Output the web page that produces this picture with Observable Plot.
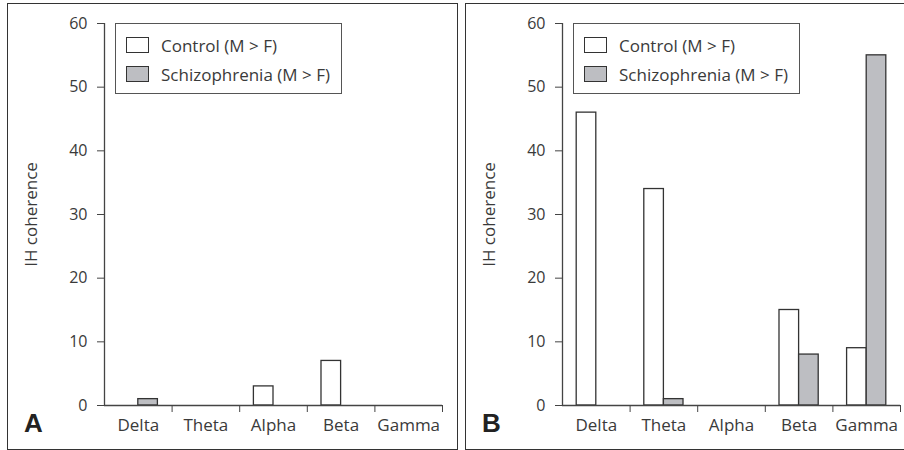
<!DOCTYPE html>
<html>
<head>
<meta charset="utf-8">
<script src="https://cdn.jsdelivr.net/npm/d3@7"></script>
<script src="https://cdn.jsdelivr.net/npm/@observablehq/plot@0.6"></script>
<style>
  html, body { margin: 0; padding: 0; background: #fff; }
  #wrap { position: relative; width: 904px; height: 450px; overflow: hidden; font-family: "Open Sans", sans-serif; color: #3a3a3a; }
  .panel { position: absolute; top: 0; width: 452px; height: 450px; }
  .panel svg { position: absolute; left: 0; top: 0; }
  .border { position: absolute; box-sizing: border-box; border: 1.5px solid #333; }
  .legend { position: absolute; box-sizing: border-box; border: 1.5px solid #555; background: #fff; }
  .item { position: absolute; left: 0; height: 16px; display: flex; align-items: center; white-space: nowrap; font-size: 17px; }
  .sw { box-sizing: border-box; width: 23px; height: 16px; border: 1.3px solid #333; margin-left: 10px; margin-right: 12px; flex: none; }
  .letter { position: absolute; font-family: "Liberation Sans", Arial, sans-serif; font-weight: bold; font-size: 26px; color: #222; line-height: 1; }
</style>
</head>
<body>
<div id="wrap"></div>
<script>
const bands = ["Delta", "Theta", "Alpha", "Beta", "Gamma"];
const seriesNames = ["Control (M > F)", "Schizophrenia (M > F)"];
const seriesColors = ["#ffffff", "#bdbec2"];
const controlA = [0, 0, 3, 7, 0];
const schizA = [1, 0, 0, 0, 0];
const controlB = [46, 34, 0, 15, 9];
const schizB = [0, 1, 0, 8, 55];
const yTicks = [0, 10, 20, 30, 40, 50, 60];
const panelLetters = ["A", "B"];

const FONT = "'Open Sans', sans-serif";
const BAR = 0.29;

function rows(control, schiz) {
  const out = [];
  bands.forEach((b, i) => {
    out.push({band: b, i, s: 0, v: control[i]});
    out.push({band: b, i, s: 1, v: schiz[i]});
  });
  return out.filter(d => d.v > 0);
}

function makePanel(left, marginLeft, marginRight, control, schiz, letter, border) {
  const panel = document.createElement("div");
  panel.className = "panel";
  panel.style.left = left + "px";

  const b = document.createElement("div");
  b.className = "border";
  Object.assign(b.style, {left: border[0] + "px", top: "2.5px", width: border[1] + "px", height: "447px"});
  panel.appendChild(b);

  const chart = Plot.plot({
    width: 452,
    height: 450,
    marginLeft,
    marginRight,
    marginTop: 23,
    marginBottom: 45,
    x: {domain: [0, bands.length]},
    y: {domain: [0, 60]},
    style: {fontFamily: FONT, fontSize: "15px", color: "#3a3a3a", background: "transparent", overflow: "visible"},
    marks: [
      Plot.rectY(rows(control, schiz), {
        x1: d => d.i + 0.5 - (d.s === 0 ? BAR : 0),
        x2: d => d.i + 0.5 + (d.s === 1 ? BAR : 0),
        y1: 0,
        y2: "v",
        fill: d => seriesColors[d.s],
        stroke: "#333",
        strokeWidth: 1.3
      }),
      Plot.ruleX([0], {stroke: "#444", strokeWidth: 1.3}),
      Plot.ruleY([0], {stroke: "#444", strokeWidth: 1.3}),
      Plot.axisY({ticks: yTicks, tickSize: 7, tickPadding: 10, stroke: "#444", fontSize: 16, label: null}),
      Plot.axisY({ticks: [], tickSize: 0, label: "IH coherence", fontSize: 17, labelAnchor: "center", labelArrow: "none", labelOffset: 80}),
      Plot.axisX({ticks: d3.range(1, bands.length + 1), tickSize: 7, tickFormat: () => "", stroke: "#444", label: null}),
      Plot.axisX({ticks: bands.map((_, i) => i + 0.5), tickSize: 0, tickPadding: 13, fontSize: 17, tickFormat: d => bands[Math.round(d - 0.5)], label: null})
    ]
  });
  panel.appendChild(chart);

  const lg = document.createElement("div");
  lg.className = "legend";
  Object.assign(lg.style, {left: (marginLeft + 11) + "px", top: "23px", width: "227px", height: "71px"});
  seriesNames.forEach((name, k) => {
    const it = document.createElement("div");
    it.className = "item";
    it.style.top = (13 + k * 29) + "px";
    const sw = document.createElement("div");
    sw.className = "sw";
    sw.style.background = seriesColors[k];
    it.appendChild(sw);
    const t = document.createElement("span");
    t.textContent = name;
    it.appendChild(t);
    lg.appendChild(it);
  });
  panel.appendChild(lg);

  const L = document.createElement("div");
  L.className = "letter";
  L.textContent = letter;
  Object.assign(L.style, {left: (marginLeft - 80) + "px", top: "410px"});
  panel.appendChild(L);

  document.getElementById("wrap").appendChild(panel);
}

makePanel(0, 104, 10, controlA, schizA, panelLetters[0], [6.5, 451]);
makePanel(452, 110, 4, controlB, schizB, panelLetters[1], [12.5, 440]);
</script>
</body>
</html>
